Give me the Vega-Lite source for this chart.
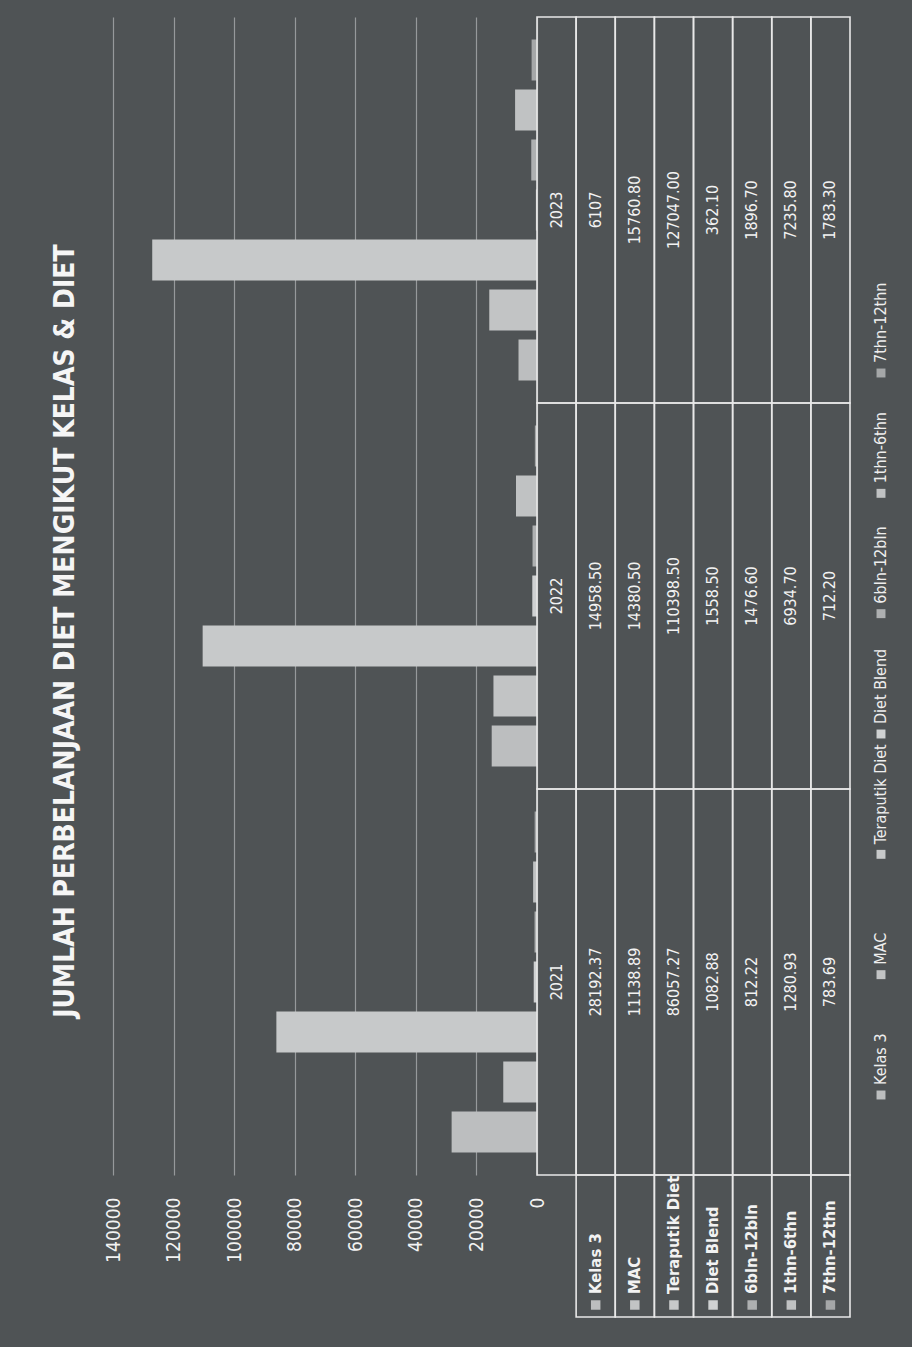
{
  "$schema": "https://vega.github.io/schema/vega-lite/v6.json",
  "background": "#4f5355",
  "padding": {"left": 51, "top": 16, "right": 0, "bottom": 31},
  "config": {
    "font": "DejaVu Sans Condensed",
    "view": {"stroke": null},
    "concat": {"spacing": 0},
    "text": {"color": "#f2f2f2"}
  },
  "datasets": {
    "spend": [
      {"year": "2021", "series": "Kelas 3", "value": 28192.37, "label": "28192.37"},
      {"year": "2021", "series": "MAC", "value": 11138.89, "label": "11138.89"},
      {"year": "2021", "series": "Teraputik Diet", "value": 86057.27, "label": "86057.27"},
      {"year": "2021", "series": "Diet Blend", "value": 1082.88, "label": "1082.88"},
      {"year": "2021", "series": "6bln-12bln", "value": 812.22, "label": "812.22"},
      {"year": "2021", "series": "1thn-6thn", "value": 1280.93, "label": "1280.93"},
      {"year": "2021", "series": "7thn-12thn", "value": 783.69, "label": "783.69"},
      {"year": "2022", "series": "Kelas 3", "value": 14958.5, "label": "14958.50"},
      {"year": "2022", "series": "MAC", "value": 14380.5, "label": "14380.50"},
      {"year": "2022", "series": "Teraputik Diet", "value": 110398.5, "label": "110398.50"},
      {"year": "2022", "series": "Diet Blend", "value": 1558.5, "label": "1558.50"},
      {"year": "2022", "series": "6bln-12bln", "value": 1476.6, "label": "1476.60"},
      {"year": "2022", "series": "1thn-6thn", "value": 6934.7, "label": "6934.70"},
      {"year": "2022", "series": "7thn-12thn", "value": 712.2, "label": "712.20"},
      {"year": "2023", "series": "Kelas 3", "value": 6107, "label": "6107"},
      {"year": "2023", "series": "MAC", "value": 15760.8, "label": "15760.80"},
      {"year": "2023", "series": "Teraputik Diet", "value": 127047.0, "label": "127047.00"},
      {"year": "2023", "series": "Diet Blend", "value": 362.1, "label": "362.10"},
      {"year": "2023", "series": "6bln-12bln", "value": 1896.7, "label": "1896.70"},
      {"year": "2023", "series": "1thn-6thn", "value": 7235.8, "label": "7235.80"},
      {"year": "2023", "series": "7thn-12thn", "value": 1783.3, "label": "1783.30"}
    ]
  },
  "data": {"name": "spend"},
  "bounds": "flush",
  "spacing": 0,
  "columns": 3,
  "concat": [
    {
      "width": 424,
      "height": 1158,
      "title": {
        "text": "JUMLAH PERBELANJAAN DIET MENGIKUT KELAS & DIET",
        "orient": "left",
        "anchor": "middle",
        "fontSize": 28,
        "fontWeight": "bold",
        "color": "#f5f5f5",
        "offset": 24,
        "dx": -35
      },
      "mark": {"type": "bar"},
      "encoding": {
        "y": {
          "field": "year", "type": "nominal",
          "sort": ["2023", "2022", "2021"],
          "scale": {"paddingInner": 0, "paddingOuter": 0},
          "axis": null
        },
        "yOffset": {
          "field": "series", "type": "nominal",
          "sort": ["7thn-12thn", "1thn-6thn", "6bln-12bln", "Diet Blend", "Teraputik Diet", "MAC", "Kelas 3"],
          "scale": {"paddingInner": 0.18, "paddingOuter": 0.45}
        },
        "x": {
          "field": "value", "type": "quantitative",
          "scale": {"domain": [0, 140000], "reverse": true, "nice": false},
          "axis": {
            "values": [0, 20000, 40000, 60000, 80000, 100000, 120000, 140000],
            "labelAngle": 270,
            "grid": true,
            "gridColor": "#96999b",
            "gridWidth": 1.2,
            "domain": false,
            "ticks": false,
            "labelPadding": 22,
            "labelFontSize": 19,
            "labelColor": "#f2f2f2",
            "format": "d",
            "title": null
          }
        },
        "color": {
          "field": "series", "type": "nominal",
          "scale": {
            "domain": ["Kelas 3", "MAC", "Teraputik Diet", "Diet Blend", "6bln-12bln", "1thn-6thn", "7thn-12thn"],
            "range": ["#bcbebf", "#c2c4c5", "#c7c9ca", "#cfd1d2", "#aeb0b1", "#c0c2c3", "#a5a7a8"]
          },
          "legend": null
        }
      }
    },
    {
      "width": 313,
      "height": 1158,
      "encoding": {
        "y": {
          "field": "year", "type": "nominal",
          "sort": ["2023", "2022", "2021"],
          "scale": {"paddingInner": 0, "paddingOuter": 0},
          "axis": null
        }
      },
      "layer": [
        {
          "mark": {"type": "rect", "fillOpacity": 0, "stroke": "#e8e8e8", "strokeWidth": 1.6},
          "encoding": {
            "x": {
              "field": "series", "type": "nominal",
              "scale": {"domain": [" ", "Kelas 3", "MAC", "Teraputik Diet", "Diet Blend", "6bln-12bln", "1thn-6thn", "7thn-12thn"], "paddingInner": 0, "paddingOuter": 0},
              "axis": null
            }
          }
        },
        {
          "mark": {"type": "text", "angle": 270, "fontSize": 16, "color": "#f2f2f2"},
          "encoding": {
            "x": {"field": "series", "type": "nominal"},
            "text": {"field": "label"}
          }
        },
        {
          "transform": [{"aggregate": [{"op": "count", "as": "n"}], "groupby": ["year"]}],
          "layer": [
            {
              "mark": {"type": "rect", "fillOpacity": 0, "stroke": "#e8e8e8", "strokeWidth": 1.6},
              "encoding": {"x": {"datum": " ", "type": "nominal"}}
            },
            {
              "mark": {"type": "text", "angle": 270, "fontSize": 16, "color": "#f2f2f2"},
              "encoding": {"x": {"datum": " ", "type": "nominal"}, "text": {"field": "year"}}
            }
          ]
        }
      ]
    },
    {
      "width": 62,
      "height": 1158,
      "transform": [{"aggregate": [{"op": "count", "as": "n"}], "groupby": ["series"]}],
      "encoding": {
        "y": {
          "field": "series", "type": "nominal",
          "sort": ["7thn-12thn", "1thn-6thn", "6bln-12bln", "Diet Blend", "Teraputik Diet", "MAC", "Kelas 3"],
          "scale": {"type": "point", "range": [346, 1068], "padding": 0},
          "axis": null
        }
      },
      "layer": [
        {
          "mark": {"type": "text", "angle": 270, "align": "left", "baseline": "middle", "fontSize": 16, "color": "#eeeeee"},
          "encoding": {"text": {"field": "series"}}
        },
        {
          "mark": {"type": "square", "size": 80, "opacity": 1, "yOffset": 10},
          "encoding": {
            "color": {
              "field": "series", "type": "nominal",
              "scale": {
                "domain": ["Kelas 3", "MAC", "Teraputik Diet", "Diet Blend", "6bln-12bln", "1thn-6thn", "7thn-12thn"],
                "range": ["#bcbebf", "#c2c4c5", "#c7c9ca", "#cfd1d2", "#aeb0b1", "#c0c2c3", "#a5a7a8"]
              },
              "legend": null
            }
          }
        }
      ]
    },
    {
      "width": 424,
      "height": 142,
      "data": {"values": []},
      "mark": {"type": "point"},
      "encoding": {}
    },
    {
      "width": 313,
      "height": 142,
      "transform": [{"aggregate": [{"op": "count", "as": "n"}], "groupby": ["series"]}],
      "encoding": {
        "x": {
          "field": "series", "type": "nominal",
          "scale": {"domain": [" ", "Kelas 3", "MAC", "Teraputik Diet", "Diet Blend", "6bln-12bln", "1thn-6thn", "7thn-12thn"], "paddingInner": 0, "paddingOuter": 0},
          "axis": null
        }
      },
      "layer": [
        {"mark": {"type": "rect", "fillOpacity": 0, "stroke": "#e8e8e8", "strokeWidth": 1.6}},
        {
          "mark": {"type": "text", "angle": 270, "align": "left", "baseline": "middle", "dx": -48, "fontSize": 16.5, "fontWeight": "bold", "color": "#f2f2f2"},
          "encoding": {"text": {"field": "series"}}
        },
        {
          "mark": {"type": "square", "size": 90, "opacity": 1, "yOffset": 59},
          "encoding": {
            "color": {
              "field": "series", "type": "nominal",
              "scale": {
                "domain": ["Kelas 3", "MAC", "Teraputik Diet", "Diet Blend", "6bln-12bln", "1thn-6thn", "7thn-12thn"],
                "range": ["#bcbebf", "#c2c4c5", "#c7c9ca", "#cfd1d2", "#aeb0b1", "#c0c2c3", "#a5a7a8"]
              },
              "legend": null
            }
          }
        }
      ]
    }
  ]
}
